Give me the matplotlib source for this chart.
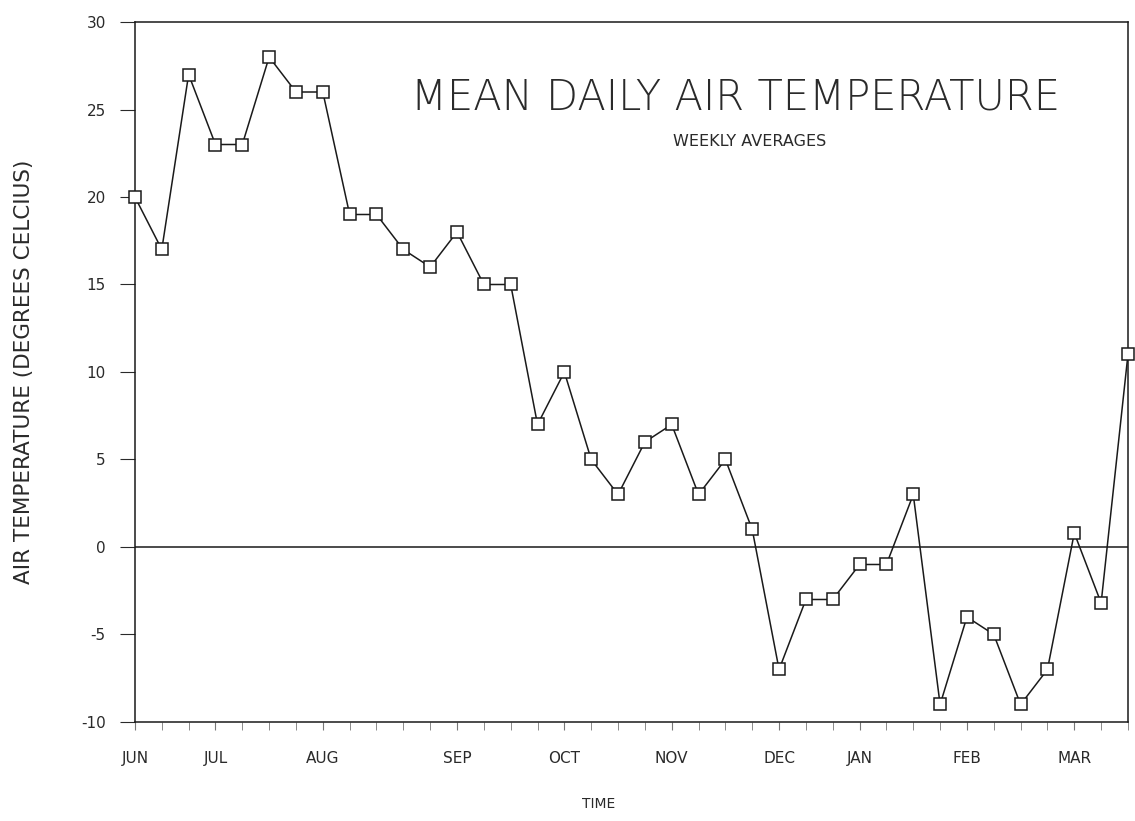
import matplotlib.pyplot as plt
import numpy as np

# weekly averages, june -> march
semaines = np.arange(38)
temperature = [20, 17, 27, 23, 23, 28, 26, 26, 19, 19, 17, 16, 18, 15, 15,
               7, 10, 5, 3, 6, 7, 3, 5, 1, -7, -3, -3, -1, -1, 3, -9, -4,
               -5, -9, -7, 0.8, -3.2, 11]
mois = ['JUN', 'JUL', 'AUG', 'SEP', 'OCT', 'NOV', 'DEC', 'JAN', 'FEB', 'MAR']
pos_mois = [0, 3, 7, 12, 16, 20, 24, 27, 31, 35]
y_ticks = [-10, -5, 0, 5, 10, 15, 20, 25, 30]

plt.rcParams['font.family'] = ['DejaVu Sans']
couleur = '#2a2a2a'

fig = plt.figure(figsize=(11.35, 8.21), dpi=100)
ax = fig.add_axes([0.1189, 0.1206, 0.8749, 0.8526])

ax.plot(semaines, temperature, color='#1a1a1a', lw=1.1, marker='s', ms=8,
        mfc='white', mec='#1a1a1a', mew=1.1, clip_on=False, zorder=3)
ax.axhline(0, color='#1a1a1a', lw=1.1)

ax.set_xlim(0, 37)
ax.set_ylim(-10, 30)
ax.set_yticks(y_ticks)
ax.set_yticklabels([str(v) for v in y_ticks])
ax.set_xticks(pos_mois)
ax.set_xticklabels(mois)
ax.set_xticks(semaines, minor=True)
ax.tick_params(axis='x', which='major', length=6, pad=15, labelsize=11,
               color='#777777', labelcolor=couleur, direction='out')
ax.tick_params(axis='x', which='minor', length=6, color='#777777', direction='out')
ax.tick_params(axis='y', which='major', length=11, pad=10, labelsize=11,
               color=couleur, labelcolor=couleur)
for s in ax.spines.values():
    s.set_color('#1a1a1a')
    s.set_linewidth(1.1)

ax.set_ylabel('AIR TEMPERATURE (DEGREES CELCIUS)', fontsize=15.5, color=couleur, labelpad=34)
ax.set_xlabel('TIME', fontsize=10, color=couleur, labelpad=22, x=0.467)

ax.text(0.605, 0.893, 'MEAN DAILY AIR TEMPERATURE', transform=ax.transAxes,
        ha='center', va='center', fontsize=30, color=couleur, fontweight='light')
ax.text(0.619, 0.83, 'WEEKLY AVERAGES', transform=ax.transAxes,
        ha='center', va='center', fontsize=11.5, color=couleur)

fig.savefig('out.png', dpi=100)
